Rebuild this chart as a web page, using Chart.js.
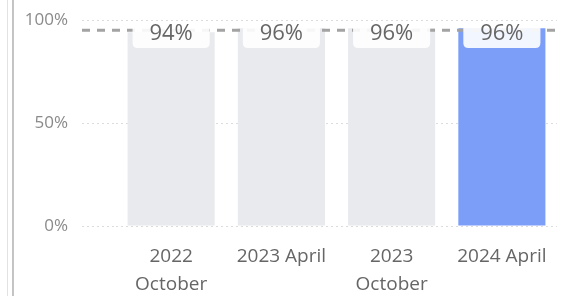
<!DOCTYPE html>
<html lang="en">
<head>
  <meta charset="UTF-8">
  <title>Survey results</title>
  <script src="https://cdn.jsdelivr.net/npm/chart.js"></script>
  <style>
    html, body { margin: 0; padding: 0; background: #fff; }
    .wrap { position: relative; width: 561px; height: 296px; overflow: hidden; }
    /* panel edge on the left */
    .edge1 { position: absolute; left: 7px; top: 0; bottom: 0; border-left: 1px solid #e2e2e2; }
    .edge2 { position: absolute; left: 12px; top: 0; bottom: 0; border-left: 2px solid #c4c4c4; }
    canvas { position: absolute; left: 0; top: 0; }
  </style>
</head>
<body>
  <div class="wrap">
    <div class="edge1"></div>
    <div class="edge2"></div>
    <canvas id="chart" width="561" height="296"></canvas>
  </div>

  <script>
    // data
    const categories = [['2022', 'October'], ['2023 April'], ['2023', 'October'], ['2024 April']];
    const values = [94, 96, 96, 96];
    const barColors = ['#e8eaee', '#e8eaee', '#e8eaee', '#7c9ef9'];
    const target = 95;
    const yTicks = [0, 50, 100];

    const FONT = "'Open Sans', sans-serif";
    const TICK_LEN = 34;

    // dashed target line, drawn over the bars
    const targetLine = {
      id: 'targetLine',
      afterDatasetsDraw(chart) {
        const { ctx, chartArea, scales } = chart;
        const y = scales.y.getPixelForValue(target);
        ctx.save();
        ctx.strokeStyle = '#a3a3a3';
        ctx.lineWidth = 3;
        ctx.setLineDash([8, 7]);
        ctx.beginPath();
        ctx.moveTo(chartArea.left - TICK_LEN, y);
        ctx.lineTo(chart.width, y);
        ctx.stroke();
        ctx.restore();
      }
    };

    // value labels in a white tab at the top of each bar
    const valueTabs = {
      id: 'valueTabs',
      afterDraw(chart) {
        const { ctx, scales } = chart;
        const meta = chart.getDatasetMeta(0);
        const top = scales.y.getPixelForValue(100);
        ctx.save();
        meta.data.forEach((bar, i) => {
          const x0 = bar.x - bar.width / 2 + 5;
          const x1 = bar.x + bar.width / 2 - 5;
          const y0 = top + 3, y1 = top + 28, r = 5;
          ctx.fillStyle = 'rgba(255,255,255,0.9)';
          ctx.beginPath();
          ctx.moveTo(x0, y0);
          ctx.lineTo(x1, y0);
          ctx.lineTo(x1, y1 - r);
          ctx.quadraticCurveTo(x1, y1, x1 - r, y1);
          ctx.lineTo(x0 + r, y1);
          ctx.quadraticCurveTo(x0, y1, x0, y1 - r);
          ctx.closePath();
          ctx.fill();
          ctx.fillStyle = '#666';
          ctx.font = '22px ' + FONT;
          ctx.textAlign = 'center';
          ctx.textBaseline = 'middle';
          ctx.fillText(values[i] + '%', bar.x, top + 14);
        });
        ctx.restore();
      }
    };

    new Chart(document.getElementById('chart'), {
      type: 'bar',
      data: {
        labels: categories,
        datasets: [{
          data: values,
          backgroundColor: barColors,
          borderWidth: 0,
          categoryPercentage: 1,
          barPercentage: 0.79
        }]
      },
      options: {
        responsive: false,
        animation: false,
        layout: { padding: { top: 20, right: 4, left: 0, bottom: 0 } },
        plugins: { legend: { display: false }, tooltip: { enabled: false } },
        scales: {
          x: {
            afterFit(scale) { scale.height = 70; scale.paddingLeft = 0; scale.paddingRight = 0; },
            grid: { display: false, drawTicks: false },
            border: { display: false },
            ticks: { color: '#666', font: { family: FONT, size: 19, lineHeight: 1.45 }, padding: 17, maxRotation: 0 }
          },
          y: {
            min: 0, max: 100,
            afterFit(scale) { scale.width = 116; scale.paddingTop = 0; scale.paddingBottom = 0; },
            afterBuildTicks(scale) { scale.ticks = yTicks.map(v => ({ value: v })); },
            border: { display: false, dash: [2, 3] },
            grid: {
              color: '#dcdcdc', lineWidth: 1,
              tickLength: TICK_LEN, tickColor: '#dcdcdc', tickBorderDash: [2, 3]
            },
            ticks: {
              color: '#8a8a8a', padding: 14,
              font: { family: FONT, size: 17 },
              callback: v => v + '%'
            }
          }
        }
      },
      plugins: [targetLine, valueTabs]
    });
  </script>
</body>
</html>
